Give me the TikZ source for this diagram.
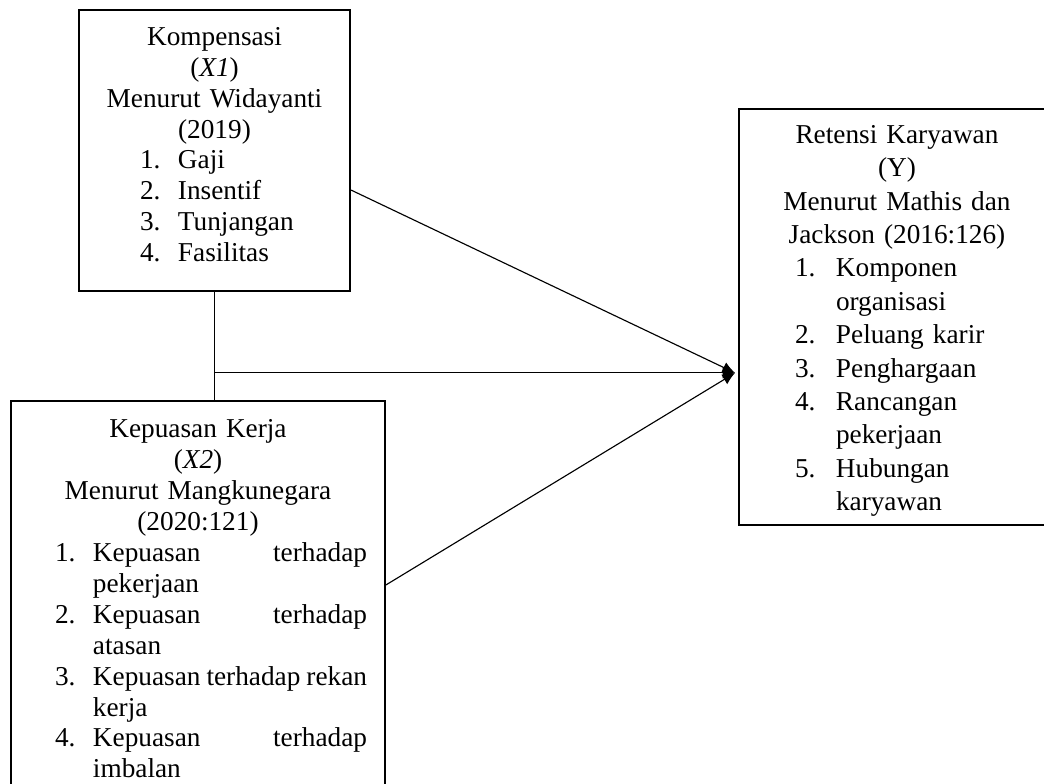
\documentclass[tikz,border=0pt]{standalone}
\usepackage{fontspec}
\setmainfont{Liberation Serif}
\usetikzlibrary{positioning, arrows.meta, calc}
\newdimen\pxu \pxu=0.44pt
% list line: indent, label width, label, text
\newcommand{\litem}[4]{\makebox[\hsize][l]{\hspace*{#1\pxu}\makebox[#2\pxu][l]{#3}#4}}
\newcommand{\spread}[1]{\makebox[274\pxu][l]{#1}}

\begin{document}
\begin{tikzpicture}[x=0.44pt, y=-0.44pt,
    font=\fontsize{12}{13.6}\selectfont,
    box/.style={draw, line width=0.9pt, inner sep=0pt, align=center},
    link/.style={line width=0.5pt},
    arr/.style={-{Latex[length=5.5pt, width=5pt]}}]
  \useasboundingbox (0,0) rectangle (1044,784);
  \clip (0,0) rectangle (1044,784);
  \node[box, text width=119.24pt, minimum height=123.64pt] (kom) at (214.5,150.5)
    {Kompensasi\\(\textit{X1})\\Menurut Widayanti\\(2019)\\
     \litem{61}{38}{1.}{Gaji}\\
     \litem{61}{38}{2.}{Insentif}\\
     \litem{61}{38}{3.}{Tunjangan}\\
     \litem{61}{38}{4.}{Fasilitas}\rule[-5.3pt]{0pt}{0pt}};
  \node[box, text width=164.56pt, minimum height=174.24pt] (kep) at (198,599)
    {Kepuasan Kerja\\(\textit{X2})\\Menurut Mangkunegara\\(2020:121)\\
     \litem{44}{38}{1.}{\spread{Kepuasan\hfill terhadap}}\\
     \litem{44}{38}{}{pekerjaan}\\
     \litem{44}{38}{2.}{\spread{Kepuasan\hfill terhadap}}\\
     \litem{44}{38}{}{atasan}\\
     \litem{44}{38}{3.}{\spread{Kepuasan\hfill terhadap\hfill rekan}}\\
     \litem{44}{38}{}{kerja}\\
     \litem{44}{38}{4.}{\spread{Kepuasan\hfill terhadap}}\\
     \litem{44}{38}{}{imbalan}};
  \node[box, font=\fontsize{12}{14.7}\selectfont, text width=139.04pt,
        minimum height=183.04pt] (ret) at (897,317)
    {\rule{0pt}{11.4pt}Retensi Karyawan\\(Y)\\Menurut Mathis dan\\Jackson (2016:126)\\
     \litem{56}{41}{1.}{Komponen}\\
     \litem{56}{41}{}{organisasi}\\
     \litem{56}{41}{2.}{Peluang karir}\\
     \litem{56}{41}{3.}{Penghargaan}\\
     \litem{56}{41}{4.}{Rancangan}\\
     \litem{56}{41}{}{pekerjaan}\\
     \litem{56}{41}{5.}{Hubungan}\\
     \litem{56}{41}{}{karyawan}};
  % connectors
  \coordinate (tip) at ([xshift=-1.3pt, yshift=-24.6pt]ret.west);
  \coordinate (split) at (kom.south |- tip);
  \draw[link] (kom.south) -- (kom.south |- kep.north);
  \draw[link, arr] (split) -- (tip);
  \draw[link, arr] ([yshift=-17.4pt]kom.east) -- (tip);
  \draw[link, arr] ([yshift=6.2pt]kep.east) -- (tip);
\end{tikzpicture}
\end{document}
